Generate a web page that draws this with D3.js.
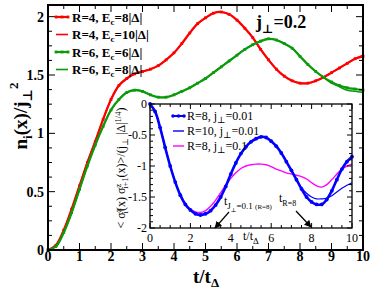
<!DOCTYPE html>
<html>
<head>
<meta charset="utf-8">
<script src="https://cdn.jsdelivr.net/npm/d3@7"></script>
<style>
  body { margin: 0; background: #fff; }
  svg { display: block; font-family: "Liberation Serif", "DejaVu Serif", serif; }
</style>
</head>
<body>
<script>
// time grid shared by all series
var tGrid = [0, 0.25, 0.5, 0.75, 1, 1.25, 1.5, 1.75, 2, 2.25, 2.5, 2.75, 3, 3.25, 3.5, 3.75, 4,
  4.25, 4.5, 4.75, 5, 5.25, 5.5, 5.75, 6, 6.25, 6.5, 6.75, 7, 7.25, 7.5, 7.75, 8,
  8.25, 8.5, 8.75, 9, 9.25, 9.5, 9.75, 10];

// main panel: n_i(x)/j^2
var redEc8 = [0, 0.04, 0.17, 0.35, 0.55, 0.75, 0.93, 1.12, 1.29, 1.41, 1.47, 1.51, 1.53, 1.55, 1.58, 1.63,
  1.69, 1.77, 1.86, 1.94, 1.99, 2.03, 2.04, 2.02, 1.97, 1.90, 1.82, 1.72, 1.63, 1.55, 1.49,
  1.45, 1.43, 1.43, 1.45, 1.48, 1.52, 1.56, 1.60, 1.64, 1.66];
var redEc10 = [0, 0.04, 0.17, 0.35, 0.55, 0.75, 0.93, 1.12, 1.29, 1.41, 1.47, 1.51, 1.53, 1.55, 1.58, 1.63,
  1.69, 1.77, 1.86, 1.94, 1.99, 2.03, 2.04, 2.02, 1.97, 1.90, 1.82, 1.72, 1.63, 1.55, 1.49,
  1.45, 1.43, 1.43, 1.45, 1.48, 1.52, 1.56, 1.60, 1.64, 1.67];
var greenEc6 = [0, 0.03, 0.15, 0.32, 0.52, 0.72, 0.90, 1.06, 1.20, 1.29, 1.35, 1.37, 1.36, 1.33, 1.31, 1.31,
  1.33, 1.36, 1.39, 1.43, 1.47, 1.52, 1.57, 1.62, 1.67, 1.72, 1.76, 1.79, 1.81, 1.80, 1.77,
  1.73, 1.66, 1.59, 1.53, 1.48, 1.44, 1.41, 1.39, 1.38, 1.37];
var greenEc8 = [0, 0.03, 0.15, 0.32, 0.52, 0.72, 0.90, 1.06, 1.20, 1.29, 1.35, 1.37, 1.36, 1.33, 1.31, 1.31,
  1.33, 1.36, 1.39, 1.43, 1.47, 1.52, 1.57, 1.62, 1.67, 1.72, 1.76, 1.79, 1.81, 1.80, 1.77,
  1.73, 1.66, 1.59, 1.53, 1.48, 1.43, 1.40, 1.37, 1.36, 1.35];

// inset: spin correlation
var blueR8 = [0, -0.12, -0.38, -0.70, -1.00, -1.26, -1.47, -1.62, -1.71, -1.77, -1.79, -1.77, -1.72,
  -1.63, -1.50, -1.33, -1.13, -0.95, -0.80, -0.69, -0.61, -0.56, -0.53, -0.54, -0.60, -0.68,
  -0.79, -0.93, -1.07, -1.22, -1.37, -1.50, -1.58, -1.62, -1.62, -1.54, -1.40, -1.22, -1.05, -0.93, -0.85];
var blueR10 = [0, -0.12, -0.38, -0.70, -1.00, -1.26, -1.47, -1.62, -1.71, -1.77, -1.79, -1.77, -1.72,
  -1.63, -1.50, -1.33, -1.13, -0.95, -0.80, -0.69, -0.61, -0.56, -0.53, -0.54, -0.60, -0.68,
  -0.79, -0.93, -1.07, -1.21, -1.35, -1.44, -1.50, -1.53, -1.53, -1.52, -1.48, -1.42, -1.36, -1.31, -1.27];
var magR8 = [0, -0.12, -0.38, -0.70, -1.00, -1.26, -1.46, -1.61, -1.70, -1.74, -1.75, -1.72, -1.65,
  -1.55, -1.43, -1.31, -1.20, -1.11, -1.04, -1.00, -0.98, -0.97, -0.97, -0.98, -1.01, -1.05,
  -1.08, -1.11, -1.13, -1.15, -1.17, -1.21, -1.27, -1.32, -1.34, -1.30, -1.22, -1.13, -1.05, -1.00, -0.97];

var mainXTicks = [0, 1, 2, 3, 4, 5, 6, 7, 8, 9, 10];
var mainYTicks = [0, 0.5, 1, 1.5, 2];
var insetXTicks = [0, 2, 4, 6, 8, 10];
var insetYTicks = [0, -0.5, -1, -1.5, -2];

var width = 374, height = 289;
var svg = d3.select('body').append('svg')
  .attr('width', width)
  .attr('height', height);

function pts(vals) {
  return tGrid.map(function(t, i) { return [t, vals[i]]; });
}

function frame(g, x, y, xt, yt, xMinor, yMinor, big, sw) {
  var x0 = x.range()[0], x1 = x.range()[1], y0 = y.range()[0], y1 = y.range()[1];
  var majorLen = big ? 7 : 5, minorLen = big ? 4 : 3;
  var tk = g.append('g').attr('stroke', '#000').attr('stroke-width', 1);
  xMinor.forEach(function(v) {
    var isMajor = xt.indexOf(v) >= 0, L = isMajor ? majorLen : minorLen;
    tk.append('line').attr('x1', x(v)).attr('x2', x(v)).attr('y1', y0).attr('y2', y0 - L);
    tk.append('line').attr('x1', x(v)).attr('x2', x(v)).attr('y1', y1).attr('y2', y1 + L);
  });
  yMinor.forEach(function(v) {
    var isMajor = yt.indexOf(v) >= 0, L = isMajor ? majorLen : minorLen;
    tk.append('line').attr('y1', y(v)).attr('y2', y(v)).attr('x1', x0).attr('x2', x0 + L);
    tk.append('line').attr('y1', y(v)).attr('y2', y(v)).attr('x1', x1).attr('x2', x1 - L);
  });
  g.append('rect')
    .attr('x', x0).attr('y', y1).attr('width', x1 - x0).attr('height', y0 - y1)
    .attr('fill', 'none').attr('stroke', '#000').attr('stroke-width', sw);
}

function range(a, b, s) {
  var out = [];
  for (var v = a; v <= b + 1e-9; v += s) out.push(Math.round(v * 1000) / 1000);
  return out;
}

// ---------- main panel ----------
var x = d3.scaleLinear().domain([0, 10]).range([48, 363]);
var y = d3.scaleLinear().domain([0, 2.1]).range([250, 5]);

var line = d3.line()
  .x(function(d) { return x(d[0]); })
  .y(function(d) { return y(d[1]); })
  .curve(d3.curveCatmullRom);

var mainSeries = [
  { vals: redEc10, color: '#ff0000', w: 1.6, marks: false, label: ['R=4, E', 'c', '=10|Δ|'] },
  { vals: redEc8, color: '#ff0000', w: 2.2, marks: true, label: ['R=4, E', 'c', '=8|Δ|'] },
  { vals: greenEc8, color: '#0a9a0a', w: 1.6, marks: false, label: ['R=6, E', 'c', '=8|Δ|'] },
  { vals: greenEc6, color: '#0a9a0a', w: 2.2, marks: true, label: ['R=6, E', 'c', '=6|Δ|'] }
];

var gMain = svg.append('g');
mainSeries.forEach(function(s) {
  gMain.append('path')
    .attr('d', line(pts(s.vals)))
    .attr('fill', 'none')
    .attr('stroke', s.color)
    .attr('stroke-width', s.w);
  if (s.marks) {
    gMain.selectAll(null)
      .data(pts(s.vals))
      .enter()
      .append('rect')
      .attr('x', function(d) { return x(d[0]) - 1.4; })
      .attr('y', function(d) { return y(d[1]) - 1.4; })
      .attr('width', 2.8).attr('height', 2.8)
      .attr('fill', s.color);
  }
});

frame(svg.append('g'), x, y, mainXTicks, mainYTicks, range(0, 10, 0.5), range(0, 2.0, 0.125), true, 2);

// main tick labels
svg.append('g').selectAll('text')
  .data(mainXTicks).enter().append('text')
  .attr('x', function(d) { return x(d); })
  .attr('y', 261)
  .attr('text-anchor', 'middle')
  .attr('font-size', 14).attr('font-weight', 'bold')
  .text(function(d) { return d; });
svg.append('g').selectAll('text')
  .data(mainYTicks).enter().append('text')
  .attr('x', 44)
  .attr('y', function(d) { return y(d) + 5; })
  .attr('text-anchor', 'end')
  .attr('font-size', 14).attr('font-weight', 'bold')
  .text(function(d) { return d; });

// main legend (order as drawn in picture)
var legOrder = [mainSeries[1], mainSeries[0], mainSeries[3], mainSeries[2]];
var leg = svg.append('g').attr('font-size', 13).attr('font-weight', 'bold');
legOrder.forEach(function(s, i) {
  var ly = 17 + i * 17.5;
  leg.append('line').attr('x1', 56).attr('x2', 68).attr('y1', ly).attr('y2', ly)
    .attr('stroke', s.color).attr('stroke-width', s.w);
  if (s.marks) {
    [56, 62, 68].forEach(function(mx) {
      leg.append('rect').attr('x', mx - 1.4).attr('y', ly - 1.4).attr('width', 2.8).attr('height', 2.8)
        .attr('fill', s.color);
    });
  }
  var t = leg.append('text').attr('x', 72).attr('y', ly + 4.5);
  t.append('tspan').text(s.label[0]);
  t.append('tspan').attr('dy', 3).attr('font-size', 9).text(s.label[1]);
  t.append('tspan').attr('dy', -3).text(s.label[2]);
});

// j_perp = 0.2
var jt = svg.append('text').attr('x', 256).attr('y', 28)
  .attr('font-size', 18).attr('font-weight', 'bold');
jt.append('tspan').text('j');
jt.append('tspan').attr('dy', 5).attr('font-size', 12).text('⊥');
jt.append('tspan').attr('dy', -5).text('=0.2');

// axis titles
var xl = svg.append('text').attr('x', 193).attr('y', 283)
  .attr('font-size', 19).attr('font-weight', 'bold');
xl.append('tspan').text('t/t');
xl.append('tspan').attr('dy', 4).attr('font-size', 13).text('Δ');

var yl = svg.append('text')
  .attr('transform', 'translate(27,116) rotate(-90)')
  .attr('text-anchor', 'middle')
  .attr('font-size', 19).attr('font-weight', 'bold');
yl.append('tspan').text('n');
yl.append('tspan').attr('dy', 5).attr('font-size', 13).text('i');
yl.append('tspan').attr('dy', -5).text('(x)/j');
yl.append('tspan').attr('dy', 5).attr('font-size', 13).text('⊥');
yl.append('tspan').attr('dy', -14).attr('font-size', 13).text('2');

// ---------- inset ----------
var xi = d3.scaleLinear().domain([0, 10]).range([150, 352]);
var yi = d3.scaleLinear().domain([-2, 0]).range([228, 104]);

svg.append('rect').attr('x', 150).attr('y', 104).attr('width', 202).attr('height', 124)
  .attr('fill', '#fff');

var lineI = d3.line()
  .x(function(d) { return xi(d[0]); })
  .y(function(d) { return yi(d[1]); })
  .curve(d3.curveCatmullRom);

var insetSeries = [
  { vals: magR8, color: '#ff00ff', w: 1.4, marks: false, label: ['R=8, j', '⊥', '=0.1'] },
  { vals: blueR10, color: '#0000ff', w: 1.2, marks: false, label: ['R=10, j', '⊥', '=0.01'] },
  { vals: blueR8, color: '#0000ff', w: 2.6, marks: true, label: ['R=8, j', '⊥', '=0.01'] }
];
var gIn = svg.append('g');
insetSeries.forEach(function(s) {
  gIn.append('path')
    .attr('d', lineI(pts(s.vals)))
    .attr('fill', 'none')
    .attr('stroke', s.color)
    .attr('stroke-width', s.w);
  if (s.marks) {
    gIn.selectAll(null)
      .data(pts(s.vals))
      .enter()
      .append('circle')
      .attr('cx', function(d) { return xi(d[0]); })
      .attr('cy', function(d) { return yi(d[1]); })
      .attr('r', 1.9)
      .attr('fill', s.color);
  }
});

frame(svg.append('g'), xi, yi, insetXTicks, insetYTicks, range(0, 10, 0.5), range(-2, 0, 0.1).map(function(v) { return Math.round(v * 10) / 10; }), false, 1.3);

svg.append('g').selectAll('text')
  .data(insetXTicks).enter().append('text')
  .attr('x', function(d) { return xi(d); })
  .attr('y', 242)
  .attr('text-anchor', 'middle')
  .attr('font-size', 12)
  .text(function(d) { return d; });
svg.append('g').selectAll('text')
  .data(insetYTicks).enter().append('text')
  .attr('x', 147)
  .attr('y', function(d) { return yi(d) + 4; })
  .attr('text-anchor', 'end')
  .attr('font-size', 12)
  .text(function(d) { return d; });

// inset legend
var legI = svg.append('g').attr('font-size', 12);
[insetSeries[2], insetSeries[1], insetSeries[0]].forEach(function(s, i) {
  var ly = 116 + i * 15;
  legI.append('line').attr('x1', 173).attr('x2', 184).attr('y1', ly).attr('y2', ly)
    .attr('stroke', s.color).attr('stroke-width', s.marks ? 2 : 1.4);
  if (s.marks) {
    [173, 178.5, 184].forEach(function(mx) {
      legI.append('circle').attr('cx', mx).attr('cy', ly).attr('r', 1.8).attr('fill', s.color);
    });
  }
  var t = legI.append('text').attr('x', 187).attr('y', ly + 4);
  t.append('tspan').text(s.label[0]);
  t.append('tspan').attr('dy', 3).attr('font-size', 9).text(s.label[1]);
  t.append('tspan').attr('dy', -3).text(s.label[2]);
});

// inset axis titles
var xli = svg.append('text').attr('x', 243).attr('y', 240).attr('font-size', 12);
xli.append('tspan').text('t/t');
xli.append('tspan').attr('dy', 4).attr('font-size', 9).text('Δ');

var yli = svg.append('text')
  .attr('transform', 'translate(125,168) rotate(-90)')
  .attr('text-anchor', 'middle')
  .attr('font-size', 12);
yli.append('tspan').text('< σ');
yli.append('tspan').attr('dy', -4).attr('font-size', 8.5).text('z');
yli.append('tspan').attr('dx', -5).attr('dy', 7).attr('font-size', 8.5).text('i');
yli.append('tspan').attr('dy', -3).text('(x) σ');
yli.append('tspan').attr('dy', -4).attr('font-size', 8.5).text('z');
yli.append('tspan').attr('dx', -5).attr('dy', 7).attr('font-size', 8.5).text('i+1');
yli.append('tspan').attr('dy', -3).text('(x)>/(j');
yli.append('tspan').attr('dy', 3).attr('font-size', 8.5).text('⊥');
yli.append('tspan').attr('dy', -3).text(' |Δ|');
yli.append('tspan').attr('dy', -4).attr('font-size', 8.5).text('1/4');
yli.append('tspan').attr('dy', 4).text(')');

// annotations
var defs = svg.append('defs');
defs.append('marker').attr('id', 'arr').attr('viewBox', '0 0 10 10')
  .attr('refX', 9).attr('refY', 5).attr('markerWidth', 6).attr('markerHeight', 6)
  .attr('orient', 'auto')
  .append('path').attr('d', 'M0,0 L10,5 L0,10 z').attr('fill', '#000');

var a1 = svg.append('text').attr('x', 224).attr('y', 205).attr('font-size', 12);
a1.append('tspan').text('t');
a1.append('tspan').attr('dy', 4).attr('font-size', 9).text('J');
a1.append('tspan').attr('dy', 3).attr('font-size', 6).text('⊥');
a1.append('tspan').attr('dy', -3).attr('font-size', 9).text('=0.1 ');
a1.append('tspan').attr('font-size', 7).text('(R=8)');
svg.append('line').attr('x1', 229).attr('y1', 212).attr('x2', 215).attr('y2', 228)
  .attr('stroke', '#000').attr('stroke-width', 1.2).attr('marker-end', 'url(#arr)');

var a2 = svg.append('text').attr('x', 279).attr('y', 202).attr('font-size', 12);
a2.append('tspan').text('t');
a2.append('tspan').attr('dy', 4).attr('font-size', 8).text('R=8');
svg.append('line').attr('x1', 296).attr('y1', 211).attr('x2', 311).attr('y2', 227)
  .attr('stroke', '#000').attr('stroke-width', 1.2).attr('marker-end', 'url(#arr)');
</script>
</body>
</html>
